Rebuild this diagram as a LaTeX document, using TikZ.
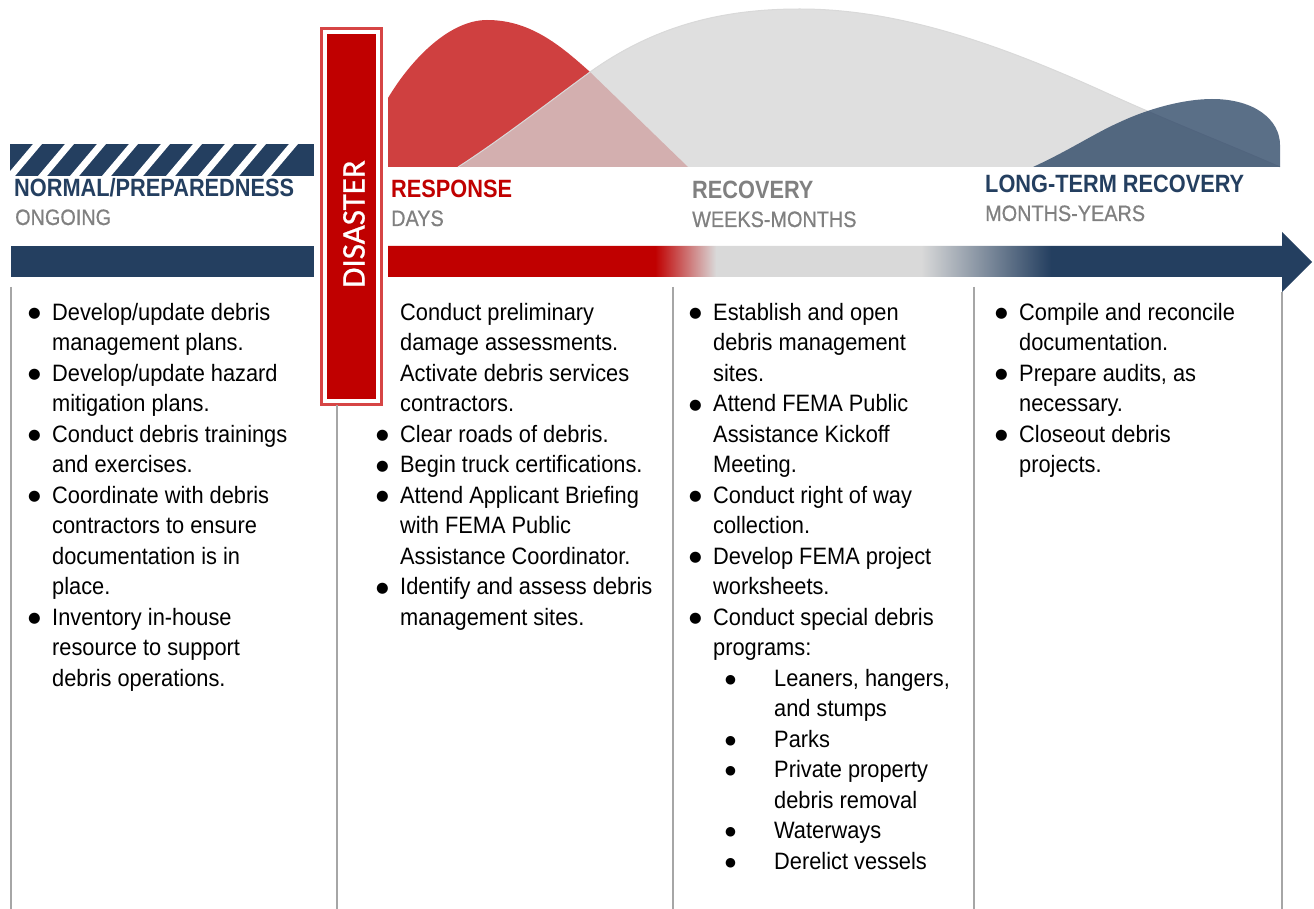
\documentclass[tikz,border=0pt]{standalone}
\usepackage{fontspec}
\setmainfont{Liberation Sans}[FakeStretch=0.92]
\newfontfamily\headfont{Liberation Sans}[FakeStretch=0.87]
\newfontfamily\spanfont{Liberation Sans}[FakeStretch=0.89, FakeBold=0.6]
\newfontfamily\disasterfont{Carlito}[FakeBold=0.8]
\newfontfamily\dotfont{DejaVu Sans}
\usepackage{xcolor}
\usetikzlibrary{positioning}

\definecolor{navy}{HTML}{243F60}
\definecolor{darkred}{HTML}{C00000}
\definecolor{framered}{HTML}{D64545}
\definecolor{midgray}{HTML}{808080}
\definecolor{linegray}{HTML}{A6A6A6}
\definecolor{bargray}{HTML}{D9D9D9}
\definecolor{humpgray}{HTML}{D5D5D5}

% red -> gray -> navy along the timeline arrow (middle 25bp..75bp spans the arrow)
\pgfdeclarehorizontalshading{timeline}{100bp}{color(0bp)=(darkred); color(39.45bp)=(darkred);
    color(42.75bp)=(bargray); color(53.84bp)=(bargray); color(60.88bp)=(navy); color(100bp)=(navy)}

% bullets and indents for the task lists
\newcommand{\bdot}{\makebox[24pt][l]{\raisebox{2.2pt}{\dotfont\fontsize{14.5}{14.5}\selectfont ●}}}
\newcommand{\cont}{\hspace*{24pt}}
\newcommand{\sdot}{\hspace*{36pt}\makebox[49pt][l]{\raisebox{2.6pt}{\dotfont\fontsize{12.5}{12.5}\selectfont ●}}}
\newcommand{\scont}{\hspace*{85pt}}

\begin{document}
\begin{tikzpicture}[x=1pt, y=-1pt,
    head/.style={font=\headfont\bfseries\fontsize{25}{30}\selectfont, anchor=base west, inner sep=0pt},
    span/.style={font=\spanfont\fontsize{22.3}{26}\selectfont, text=midgray, anchor=base west, inner sep=0pt},
    tasks/.style={font=\fontsize{23.7}{30.5}\selectfont, anchor=base west, inner sep=0pt},
    divider/.style={draw=linegray, line width=1.5pt}]
    \useasboundingbox (0,0) rectangle (1314,909);
    \fill[white] (0,0) rectangle (1314,909);

    % activity humps
    \fill[darkred, opacity=0.75] (388,167) -- (388,98) .. controls (412,58) and (450,20) .. (487,20)
        .. controls (530,20) and (560,45) .. (590,72) -- (688,167) -- cycle;
    \fill[humpgray, opacity=0.75] (458,167) .. controls (500,140) and (545,105) .. (590,72)
        .. controls (660,22) and (730,9) .. (800,9) .. controls (900,9) and (1000,45) .. (1100,90)
        .. controls (1170,122) and (1230,145) .. (1280,167) -- cycle;
    \draw[gray!30, line width=1pt] (458,167) .. controls (500,140) and (545,105) .. (590,72)
        .. controls (660,22) and (730,9) .. (800,9) .. controls (900,9) and (1000,45) .. (1100,90)
        .. controls (1170,122) and (1230,145) .. (1280,167);
    \fill[navy, opacity=0.75] (1033,167) .. controls (1070,150) and (1095,133) .. (1120,122)
        .. controls (1150,108) and (1185,99) .. (1212,99) .. controls (1255,99) and (1280,120) .. (1280,145)
        -- (1280,167) -- cycle;

    % preparedness bars
    \fill[navy] (10,144) rectangle (314,176);
    \begin{scope}
        \clip (10,144) rectangle (314,176);
        \foreach \k in {0,...,8}
            \fill[white] ({33+32*\k},144) -- ({42+32*\k},144) -- ({15+32*\k},176) -- ({6+32*\k},176) -- cycle;
    \end{scope}
    \fill[navy] (11,246) rectangle (314,277);

    % timeline arrow
    \shade[shading=timeline] (388,246) -- (1282,246) -- (1282,232) -- (1312,262) -- (1282,292)
        -- (1282,277) -- (388,277) -- cycle;

    % disaster marker
    \draw[framered, line width=3pt] (321.5,28.5) rectangle (381.5,404);
    \fill[darkred] (327,34) rectangle (376,399);
    \node[rotate=90, text=white, font=\disasterfont\fontsize{33}{36}\selectfont, inner sep=0pt] (disaster) at (354,224) {DISASTER};

    % phase titles
    \node[head, text=navy] (prepTitle) at (14,197) {NORMAL/PREPAREDNESS};
    \node[span] (prepSpan) at (15,225) {ONGOING};
    \node[head, text=darkred] (respTitle) at (391,198) {RESPONSE};
    \node[span] (respSpan) at (391,226) {DAYS};
    \node[head, text=midgray] (recTitle) at (692,199) {RECOVERY};
    \node[span] (recSpan) at (692,227) {WEEKS-MONTHS};
    \node[head, text=navy] (ltrTitle) at (985,193) {LONG-TERM RECOVERY};
    \node[span] (ltrSpan) at (985,221) {MONTHS-YEARS};

    % column dividers
    \draw[divider] (11,287) -- (11,909);
    \draw[divider] (337,405) -- (337,909);
    \draw[divider] (673,287) -- (673,909);
    \draw[divider] (974,287) -- (974,909);
    \draw[divider] (1282,292) -- (1282,909);

    % task lists
    \node[tasks] (prepTasks) at (28,320) {\begin{tabular}[t]{@{}l@{}}
        \bdot Develop/update debris\\
        \cont management plans.\\
        \bdot Develop/update hazard\\
        \cont mitigation plans.\\
        \bdot Conduct debris trainings\\
        \cont and exercises.\\
        \bdot Coordinate with debris\\
        \cont contractors to ensure\\
        \cont documentation is in\\
        \cont place.\\
        \bdot Inventory in-house\\
        \cont resource to support\\
        \cont debris operations.
    \end{tabular}};
    \node[tasks] (respTasks) at (376,320) {\begin{tabular}[t]{@{}l@{}}
        \cont Conduct preliminary\\
        \cont damage assessments.\\
        \cont Activate debris services\\
        \cont contractors.\\
        \bdot Clear roads of debris.\\
        \bdot Begin truck certifications.\\
        \bdot Attend Applicant Briefing\\
        \cont with FEMA Public\\
        \cont Assistance Coordinator.\\
        \bdot Identify and assess debris\\
        \cont management sites.
    \end{tabular}};
    \node[tasks] (recTasks) at (689,320) {\begin{tabular}[t]{@{}l@{}}
        \bdot Establish and open\\
        \cont debris management\\
        \cont sites.\\
        \bdot Attend FEMA Public\\
        \cont Assistance Kickoff\\
        \cont Meeting.\\
        \bdot Conduct right of way\\
        \cont collection.\\
        \bdot Develop FEMA project\\
        \cont worksheets.\\
        \bdot Conduct special debris\\
        \cont programs:\\
        \sdot Leaners, hangers,\\
        \scont and stumps\\
        \sdot Parks\\
        \sdot Private property\\
        \scont debris removal\\
        \sdot Waterways\\
        \sdot Derelict vessels
    \end{tabular}};
    \node[tasks] (ltrTasks) at (995,320) {\begin{tabular}[t]{@{}l@{}}
        \bdot Compile and reconcile\\
        \cont documentation.\\
        \bdot Prepare audits, as\\
        \cont necessary.\\
        \bdot Closeout debris\\
        \cont projects.
    \end{tabular}};
\end{tikzpicture}
\end{document}
